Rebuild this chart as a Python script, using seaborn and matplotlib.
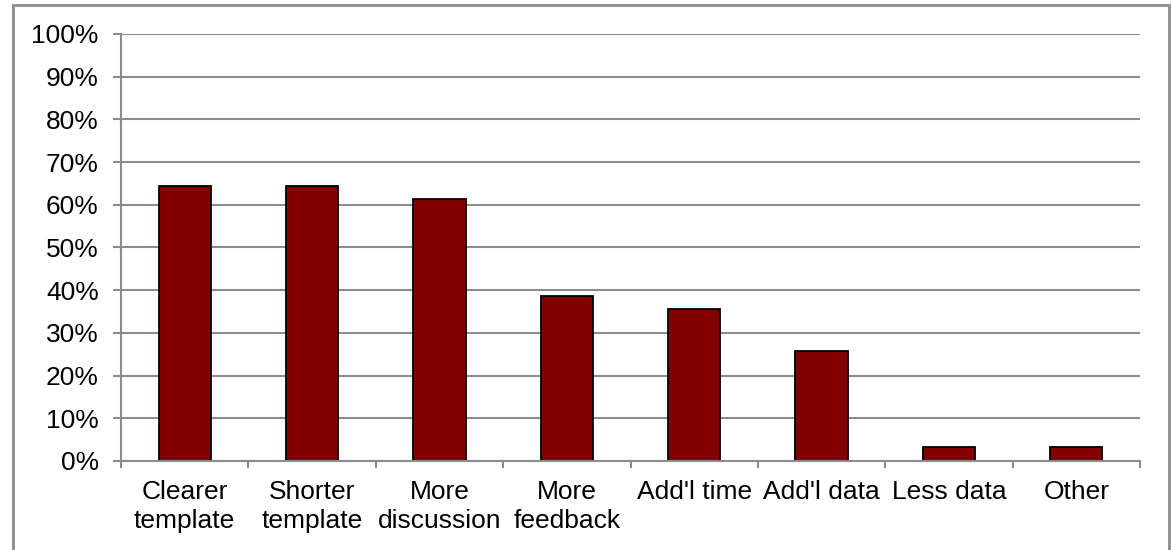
import matplotlib
matplotlib.use("Agg")
import matplotlib.pyplot as plt
import matplotlib.patches as mpatches
from matplotlib.ticker import FixedLocator, PercentFormatter
import seaborn as sns
import pandas as pd

categories = ["Clearer\ntemplate", "Shorter\ntemplate", "More\ndiscussion",
              "More\nfeedback", "Add'l time", "Add'l data", "Less data", "Other"]
shares = [64.5, 64.5, 61.3, 38.7, 35.5, 25.8, 3.2, 3.2]
y_ticks = list(range(0, 101, 10))

sns.set_theme(style="white")
plt.rcParams["font.family"] = ["Liberation Sans", "DejaVu Sans"]

df = pd.DataFrame({"category": categories, "share": shares})

fig = plt.figure(figsize=(11.72, 5.5), dpi=100)
ax = fig.add_axes([121 / 1172, 1 - 461 / 550, (1140 - 121) / 1172, (461 - 34) / 550])

grid_col = "#8c8c8c"
ax.set_ylim(0, 100)
ax.yaxis.set_major_locator(FixedLocator(y_ticks))
for t in y_ticks:
    ax.axhline(t, color=grid_col, lw=1.5, zorder=0)

sns.barplot(data=df, x="category", y="share", color="#800000", width=0.41,
            edgecolor="black", linewidth=1.3, saturation=1, ax=ax, zorder=2)

ax.set_xlim(-0.5, len(categories) - 0.5)
ax.set_xlabel("")
ax.set_ylabel("")
ax.yaxis.set_major_formatter(PercentFormatter(decimals=0))

for side in ["top", "right"]:
    ax.spines[side].set_visible(False)
ax.spines["left"].set_color(grid_col)
ax.spines["left"].set_linewidth(1.5)
ax.spines["bottom"].set_color(grid_col)
ax.spines["bottom"].set_linewidth(1.5)

ax.tick_params(axis="y", which="major", direction="out", length=6, width=1.5,
               color=grid_col, left=True, labelsize=19, labelcolor="black", pad=10)
ax.tick_params(axis="x", which="major", length=0, labelsize=19,
               labelcolor="black", pad=14)
ax.xaxis.set_minor_locator(FixedLocator([i - 0.5 for i in range(len(categories) + 1)]))
ax.tick_params(axis="x", which="minor", direction="out", length=5, width=1.5,
               color=grid_col, bottom=True)
for lbl in ax.get_xticklabels():
    lbl.set_linespacing(1.25)

# outer chart frame
frame = mpatches.Rectangle((12.5 / 1172, -0.02), (1169 - 12.5) / 1172, 1.02 - 4.5 / 550,
                           transform=fig.transFigure, fill=False,
                           edgecolor="#8c8c8c", lw=2, clip_on=False)
fig.patches.append(frame)

fig.savefig("out.png", dpi=100)
